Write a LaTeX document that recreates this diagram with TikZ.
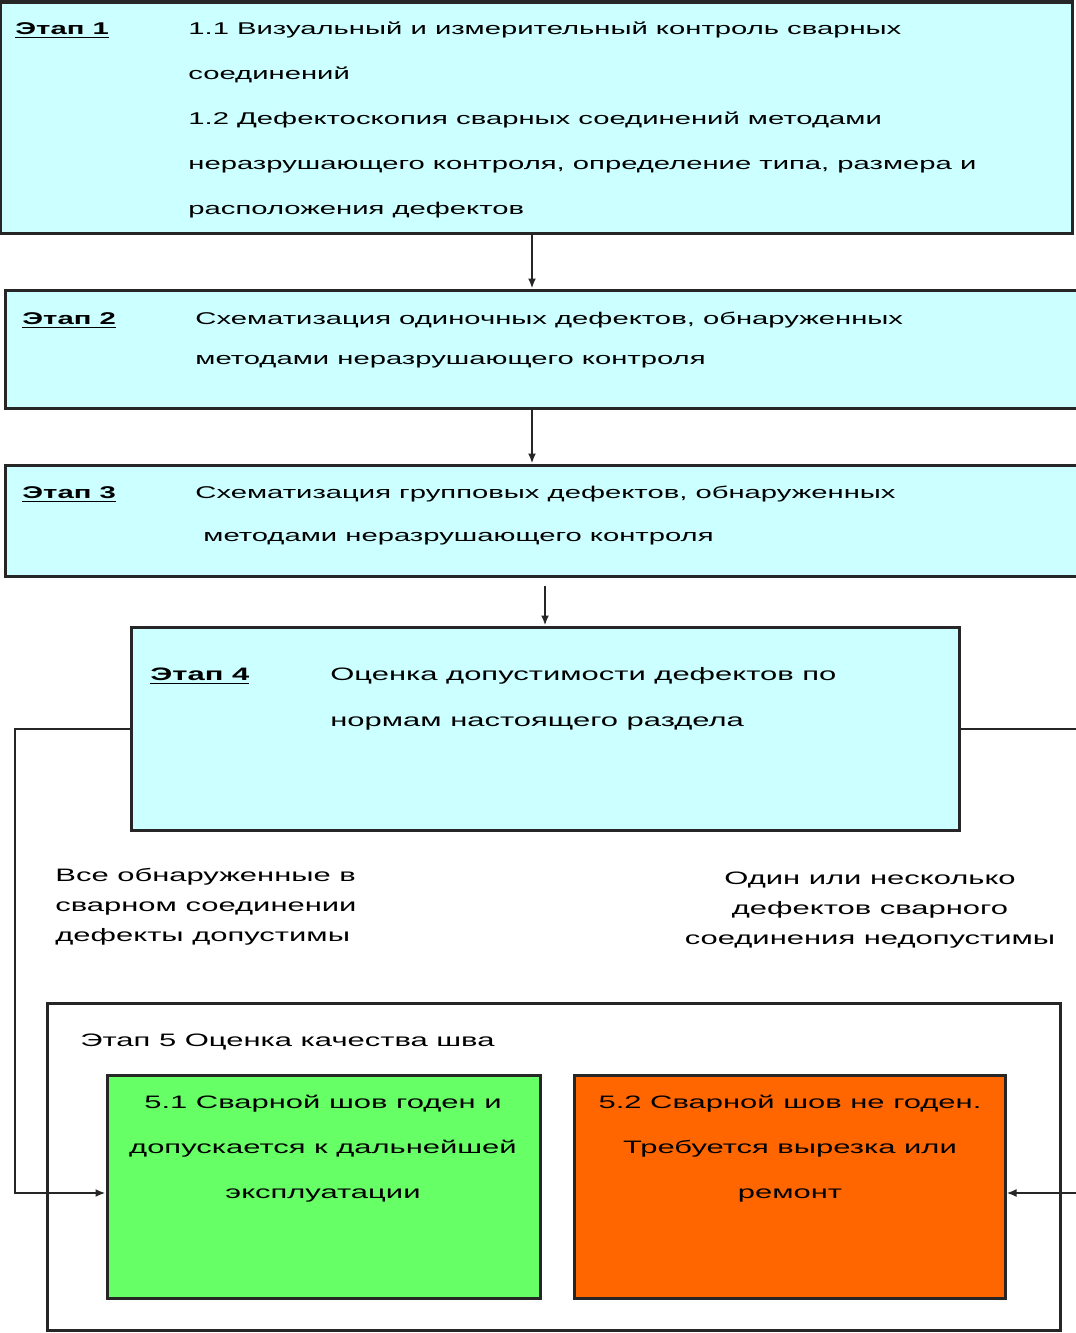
\documentclass[tikz,border=0pt]{standalone}
\usepackage{fontspec}
\setmainfont{Liberation Sans}[FakeStretch=1.72]
\usepackage{tikz}
\usetikzlibrary{positioning,fit,arrows.meta}
\definecolor{stagecyan}{RGB}{204,255,255}
\definecolor{okgreen}{RGB}{102,255,102}
\definecolor{badorange}{RGB}{255,102,0}
\tikzset{stagebox/.style={draw=black!85,line width=1.5pt,fill=stagecyan,inner sep=0pt},
resbox/.style={draw=black!85,line width=1.5pt,inner sep=0pt},
flow/.style={draw=black!85,line width=1pt,-{Latex[length=5pt,width=4pt]}}}

\begin{document}
\begin{tikzpicture}[x=0.5pt,y=-0.5pt,
	head/.style={anchor=base west,inner sep=0pt,font=\fontsize{8.5}{10}\selectfont\bfseries},
	txt/.style={anchor=base west,inner sep=0pt,align=left},
	ctxt/.style={anchor=base,inner sep=0pt,align=center}]
	\clip (0,0) rectangle (1076,1333);

	% stages 1..4 (text nodes sit on their last baseline)
	\node[stagebox,fit={(0,2) (1072,233)}] (s1) {};
	\node[head] (s1h) at (15,34) {\underline{Этап 1}};
	\node[txt,font=\fontsize{8.5}{22.5}\selectfont] (s1t) at (188,214) {1.1 Визуальный и измерительный контроль сварных\\соединений\\1.2 Дефектоскопия сварных соединений методами\\неразрушающего контроля, определение типа, размера и\\расположения дефектов};

	\node[stagebox,fit={(5,290) (1084,408)}] (s2) {};
	\node[head] (s2h) at (22,324) {\underline{Этап 2}};
	\node[txt,font=\fontsize{8.5}{20}\selectfont] (s2t) at (195,364) {Схематизация одиночных дефектов, обнаруженных\\методами неразрушающего контроля};

	\node[stagebox,fit={(5,465) (1084,576)}] (s3) {};
	\node[head] (s3h) at (22,498) {\underline{Этап 3}};
	\node[txt,font=\fontsize{8.5}{21.5}\selectfont] (s3t) at (195,541) {Схематизация групповых дефектов, обнаруженных\\\hspace{4pt}методами неразрушающего контроля};

	\node[stagebox,fit={(131,627) (959,830)}] (s4) {};
	\node[head,font=\fontsize{9}{10}\selectfont\bfseries] (s4h) at (150,680) {\underline{Этап 4}};
	\node[txt,font=\fontsize{9}{23}\selectfont] (s4t) at (330,726) {Оценка допустимости дефектов по\\нормам настоящего раздела};

	% branch labels
	\node[txt,font=\fontsize{9}{15}\selectfont] (okl) at (55,941) {Все обнаруженные в\\сварном соединении\\дефекты допустимы};
	\node[ctxt,font=\fontsize{9}{15}\selectfont] (badl) at (870,944) {Один или несколько\\дефектов сварного\\соединения недопустимы};

	% stage 5
	\node[resbox,fit={(47,1003) (1060,1330)}] (s5) {};
	\node[txt,font=\fontsize{9}{10}\selectfont] (s5h) at (80,1046) {Этап 5 Оценка качества шва};
	\node[resbox,fill=okgreen,fit={(107,1075) (540,1298)}] (s51) {};
	\node[ctxt,font=\fontsize{9}{22.5}\selectfont] (s51t) at (323,1198) {5.1 Сварной шов годен и\\допускается к дальнейшей\\эксплуатации};
	\node[resbox,fill=badorange,fit={(574,1075) (1005,1298)}] (s52) {};
	\node[ctxt,font=\fontsize{9}{22.5}\selectfont] (s52t) at (790,1198) {5.2 Сварной шов не годен.\\Требуется вырезка или\\ремонт};

	% connectors
	\coordinate (c12) at (532,0);
	\coordinate (c34) at (545,586);
	\coordinate (lft) at (15,1193);
	\coordinate (rgt) at (1084,1193);
	\draw[flow] (s1.south -| c12) -- (s2.north -| c12);
	\draw[flow] (s2.south -| c12) -- (s3.north -| c12);
	\draw[flow] (c34) -- (c34 |- s4.north);
	\draw[flow] (s4.west) -| (lft) -- (lft -| s51.west);
	\draw[flow] (s4.east) -| (rgt) -- (rgt -| s52.east);
\end{tikzpicture}
\end{document}
